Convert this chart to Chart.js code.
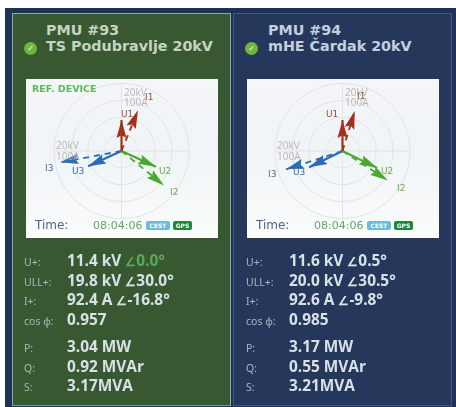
<!DOCTYPE html>
<html>
<head>
<meta charset="utf-8">
<script src="https://cdn.jsdelivr.net/npm/chart.js@4"></script>
<style>
  html, body { margin: 0; padding: 0; background: #fff; }
  body { width: 456px; height: 407px; position: relative; overflow: hidden; font-family: "Open Sans", sans-serif; }
  #wrap { position: absolute; left: 5px; top: 8px; width: 451px; height: 399px; background: #1f3157; filter: blur(0.35px); }
  .panel { position: absolute; top: 5px; height: 393px; box-sizing: border-box; }
  #p93 { left: 7px; width: 219px; background: #385831; border: 1px solid #7fb39a; border-bottom-color: #6f9f8a; }
  #p94 { left: 228px; width: 219px; background: #25385c; border: 1px solid #3f5a80; }
  .head { position: absolute; left: 33px; top: 8px; font: 600 14.3px/16px "DejaVu Sans", sans-serif; white-space: nowrap; }
  #p93 .head { color: #c5d4c0; }
  #p94 .head { color: #c3cfdf; left: 34px; }
  .ok { position: absolute; left: 11px; top: 28px; width: 13px; height: 13px; border-radius: 50%; background: #6fb63a; color: #fff; font: 700 8px/13px "DejaVu Sans"; text-align: center; }
  .card { position: absolute; top: 65px; width: 192px; height: 159px; background: linear-gradient(#f4f6f8, #f0f4f6 45%, #fbfcfc); }
  .card { left: 13px; }
  .card canvas { position: absolute; left: 0; top: 0; }
  .ref { position: absolute; left: 6px; top: 4px; font: 700 9.5px/11px "DejaVu Sans"; color: #5cb85c; }
  .time { position: absolute; left: 9px; top: 140px; font: 12px/13px "DejaVu Sans"; color: #50618a; }
  .clock { position: absolute; left: 67px; top: 140px; font: 11px/13px "DejaVu Sans"; color: #5fa85f; }
  .badge { position: absolute; top: 142px; height: 9px; border-radius: 2px; font: 700 6px/9px "DejaVu Sans"; color: #fff; text-align: center; }
  .cest { left: 120px; width: 24px; background: #6bbcd8; }
  .gps { left: 147px; width: 19px; background: #1c8a3c; }
  .row { position: absolute; white-space: nowrap; }
  .row .k { position: absolute; left: 0; top: 4px; font: 10.5px/12px "Noto Sans"; color: #a9b7bf; }
  .row .v { position: absolute; left: 43px; top: 0; font: 700 15.4px/18px "Open Sans"; color: #d8e2e6; }
  .ang { font-size: 12px; }
  .dim { color: #5da85a; }
</style>
</head>
<body>
<div id="wrap">
  <div class="panel" id="p93"></div>
  <div class="panel" id="p94"></div>
</div>
<script>
// PMU headers and readings
const names = ["PMU #93", "PMU #94"];
const sites = ["TS Podubravlje 20kV", "mHE Čardak 20kV"];
const clock = ["08:04:06", "08:04:06"];
const rowLabels = ["U+:", "ULL+:", "I+:", "cos φ:", "P:", "Q:", "S:"];
const readings93 = ["11.4 kV ", "19.8 kV ∠30.0°", "92.4 A ∠-16.8°", "0.957", "3.04 MW", "0.92 MVAr", "3.17MVA"];
const readings94 = ["11.6 kV ∠0.5°", "20.0 kV ∠30.5°", "92.6 A ∠-9.8°", "0.985", "3.17 MW", "0.55 MVAr", "3.21MVA"];

// phasors: magnitude and angle (deg, 90 = up)
const phases = ["1", "2", "3"];
const voltage93 = [9.2, 11.2, 10.9];
const voltAngle93 = [90, -24.5, 204.7];
const current93 = [65, 81, 92];
const currAngle93 = [68, -39, 190.5];
const voltage94 = [9.2, 11.4, 11];
const voltAngle94 = [90, -26, 206];
const current94 = [62, 80, 88];
const currAngle94 = [73, -33, 198];

const ringKv = [5, 10, 15, 20];
const colors = ["#a5301a", "#4aa92f", "#2a6cb5"];
const labelColors = ["#a04a3a", "#6aa84f", "#3d6aa5"];

const W = 192, H = 159;          // card size
const CX = 95.5, CY = 72;        // dial centre inside the card
const PX_PER_KV = 3.375;

function tip(mag, deg) {
  const a = deg * Math.PI / 180;
  return { x: mag * Math.cos(a), y: mag * Math.sin(a) };
}

const dial = {
  id: "dial",
  beforeDatasetsDraw(chart) {
    const { ctx, scales: { x, y } } = chart;
    const x0 = x.getPixelForValue(0), y0 = y.getPixelForValue(0);
    ctx.save();
    ctx.strokeStyle = "#e0e4e6";
    ctx.lineWidth = 1;
    ringKv.forEach(r => {
      ctx.beginPath();
      ctx.arc(x0, y0, x.getPixelForValue(r) - x0, 0, Math.PI * 2);
      ctx.stroke();
    });
    const R = x.getPixelForValue(20) - x0;
    ctx.beginPath();
    ctx.moveTo(x0 - R, y0); ctx.lineTo(x0 + R, y0);
    ctx.moveTo(x0, y0 - R); ctx.lineTo(x0, y0 + R);
    ctx.stroke();
    ctx.restore();
  },
  afterDatasetsDraw(chart, args, opts) {
    const { ctx, scales } = chart;
    ctx.save();
    // arrow heads
    chart.data.datasets.forEach(ds => {
      const sx = scales[ds.xAxisID], sy = scales[ds.yAxisID];
      const x0 = sx.getPixelForValue(ds.data[0].x), y0 = sy.getPixelForValue(ds.data[0].y);
      const x1 = sx.getPixelForValue(ds.data[1].x), y1 = sy.getPixelForValue(ds.data[1].y);
      const a = Math.atan2(y1 - y0, x1 - x0);
      const L = 18, w = 5;
      ctx.fillStyle = ds.borderColor;
      ctx.beginPath();
      ctx.moveTo(x1, y1);
      ctx.lineTo(x1 - L * Math.cos(a) - w * Math.sin(a), y1 - L * Math.sin(a) + w * Math.cos(a));
      ctx.lineTo(x1 - L * 0.85 * Math.cos(a), y1 - L * 0.85 * Math.sin(a));
      ctx.lineTo(x1 - L * Math.cos(a) + w * Math.sin(a), y1 - L * Math.sin(a) - w * Math.cos(a));
      ctx.closePath();
      ctx.fill();
    });
    // scale captions and phase labels
    ctx.textBaseline = "middle";
    ctx.textAlign = "left";
    ctx.font = "10px 'Open Sans'";
    ctx.fillStyle = "#b5b5b5";
    opts.captions.forEach(c => ctx.fillText(c[0], c[1], c[2]));
    ctx.font = "9px 'DejaVu Sans'";
    opts.labels.forEach(l => {
      ctx.fillStyle = l[3];
      ctx.fillText(l[0], l[1], l[2]);
    });
    ctx.restore();
  }
};

function buildPanel(id, i, rows, vMag, vAng, iMag, iAng, opts) {
  const panel = document.getElementById(id);
  let html = '<div class="head">' + names[i] + '<br>' + sites[i] + '</div><div class="ok">✓</div>';
  html += '<div class="card"><canvas width="' + W + '" height="' + H + '"></canvas>';
  if (i === 0) html += '<div class="ref">REF. DEVICE</div>';
  html += '<div class="time">Time:</div><div class="clock">' + clock[i] + '</div>';
  html += '<div class="badge cest">CEST</div><div class="badge gps">GPS</div></div>';
  const tops = [238, 258, 277, 297, 324, 344, 363];
  rowLabels.forEach((k, r) => {
    let v = rows[r].replace("∠", '<span class="ang">∠</span>');
    if (i === 0 && r === 0) v += '<span class="dim"><span class="ang">∠</span>0.0°</span>';
    html += '<div class="row" style="left:' + opts.rowLeft + 'px;top:' + tops[r] + 'px"><span class="k">' + k + '</span><span class="v">' + v + '</span></div>';
  });
  panel.innerHTML = html;

  const datasets = [];
  phases.forEach((p, n) => {
    const t = tip(iMag[n], iAng[n]);
    datasets.push({ data: [{ x: 0, y: 0 }, t], xAxisID: "xi", yAxisID: "yi",
      showLine: true, pointRadius: 0, borderColor: colors[n], borderWidth: 1.8, borderDash: [6, 5] });
  });
  phases.forEach((p, n) => {
    const t = tip(vMag[n], vAng[n]);
    datasets.push({ data: [{ x: 0, y: 0 }, t], xAxisID: "x", yAxisID: "y",
      showLine: true, pointRadius: 0, borderColor: colors[n], borderWidth: 2.2 });
  });

  const rx = CX / PX_PER_KV, rxR = (W - CX) / PX_PER_KV;
  const ry = (H - CY) / PX_PER_KV, ryT = CY / PX_PER_KV;
  const hidden = { display: false };
  new Chart(panel.querySelector("canvas"), {
    type: "scatter",
    data: { datasets },
    options: {
      responsive: false,
      animation: false,
      layout: { padding: 0 },
      scales: {
        x: { ...hidden, type: "linear", min: -rx, max: rxR },
        y: { ...hidden, type: "linear", min: -ry, max: ryT },
        xi: { ...hidden, type: "linear", min: -rx * 5, max: rxR * 5 },
        yi: { ...hidden, type: "linear", min: -ry * 5, max: ryT * 5 }
      },
      plugins: {
        legend: { display: false },
        tooltip: { enabled: false },
        dial: { captions: opts.captions, labels: opts.labels }
      }
    },
    plugins: [dial]
  });
}

buildPanel("p93", 0, readings93, voltage93, voltAngle93, current93, currAngle93, {
  rowLeft: 11,
  captions: [["20kV", 98, 14], ["100A", 98, 24], ["20kV", 30, 67], ["100A", 30, 78]],
  labels: [["I1", 119, 19, labelColors[0]], ["U1", 95, 36, labelColors[0]], ["U2", 133, 93, labelColors[1]],
    ["I2", 144, 114, labelColors[1]], ["U3", 46, 93, labelColors[2]], ["I3", 19, 90, labelColors[2]]]
});
buildPanel("p94", 1, readings94, voltage94, voltAngle94, current94, currAngle94, {
  rowLeft: 12,
  captions: [["20kV", 98, 14], ["100A", 98, 24], ["20kV", 30, 67], ["100A", 30, 78]],
  labels: [["I1", 110, 18, labelColors[0]], ["U1", 79, 36, labelColors[0]], ["U2", 134, 93, labelColors[1]],
    ["I2", 150, 110, labelColors[1]], ["U3", 46, 94, labelColors[2]], ["I3", 21, 96, labelColors[2]]]
});
</script>
</body>
</html>
